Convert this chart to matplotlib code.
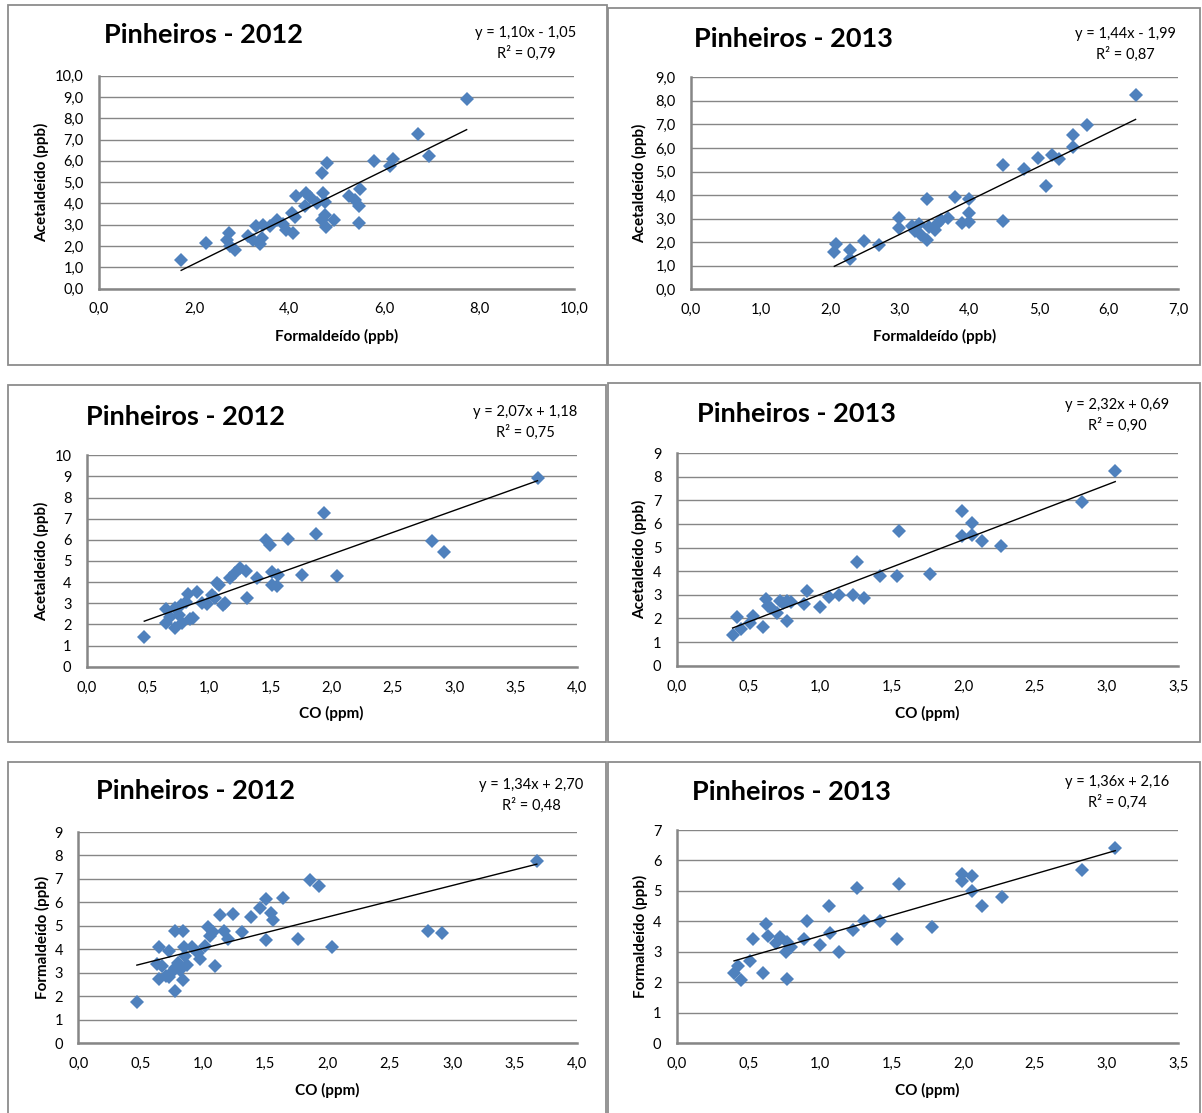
import matplotlib
matplotlib.use("Agg")
import matplotlib.pyplot as plt
import matplotlib.patches as patches
from matplotlib.ticker import MultipleLocator, FuncFormatter

plt.rcParams['font.family'] = ['Lato', 'DejaVu Sans']

W, H = 1202, 1113

# Dados
# Painel 1: Formaldeído x Acetaldeído 2012
form12_a = [1.73, 2.25, 2.74, 2.69, 2.76, 2.87, 3.13, 3.25, 3.30, 3.39, 3.43, 3.46, 3.60,
            3.74, 3.87, 3.94, 4.08, 4.06, 4.12, 4.14, 4.34, 4.36, 4.44, 4.58, 4.72, 4.76,
            4.70, 4.79, 4.76, 4.70, 4.78, 4.95, 5.27, 5.39, 5.48, 5.49, 5.48, 5.78, 6.13,
            6.18, 6.71, 6.94, 7.74]
acet12_a = [1.36, 2.12, 2.63, 2.26, 2.02, 1.79, 2.48, 2.27, 2.93, 2.07, 2.35, 2.99, 2.95,
            3.20, 3.02, 2.74, 2.63, 3.54, 3.34, 4.33, 3.89, 4.50, 4.31, 4.03, 4.51, 4.08,
            5.44, 5.92, 3.45, 3.24, 2.90, 3.21, 4.36, 4.15, 3.89, 4.66, 3.06, 6.00, 5.75,
            6.08, 7.26, 6.22, 8.92]

# Painel 2: Formaldeído x Acetaldeído 2013
form13_a = [2.06, 2.09, 2.29, 2.29, 2.49, 2.70, 2.99, 2.99, 3.18, 3.22, 3.28, 3.30, 3.39,
            3.39, 3.42, 3.50, 3.53, 3.59, 3.70, 3.79, 3.89, 4.00, 4.00, 4.00, 4.49, 4.49,
            4.79, 4.99, 5.10, 5.19, 5.29, 5.49, 5.49, 5.69, 6.39]
acet13_a = [1.60, 1.94, 1.65, 1.29, 2.05, 1.88, 3.04, 2.62, 2.70, 2.49, 2.76, 2.31, 2.09,
            3.82, 2.66, 2.52, 2.77, 2.93, 3.01, 3.92, 2.80, 2.87, 3.22, 3.85, 5.26, 2.91,
            5.12, 5.57, 4.38, 5.71, 5.52, 6.03, 6.56, 6.97, 8.26]

# Painel 3: CO x Acetaldeído 2012
co12_b = [0.47, 0.65, 0.65, 0.68, 0.72, 0.72, 0.75, 0.78, 0.77, 0.81, 0.83, 0.84, 0.87,
          0.90, 0.94, 0.98, 1.02, 1.06, 1.05, 1.08, 1.11, 1.13, 1.17, 1.21, 1.25, 1.30,
          1.31, 1.39, 1.46, 1.50, 1.51, 1.51, 1.55, 1.56, 1.64, 1.76, 1.87, 1.94, 2.04,
          2.82, 2.92, 3.68]
acet12_b = [1.39, 2.71, 2.08, 2.37, 1.81, 2.76, 2.44, 2.08, 2.92, 3.08, 3.42, 2.24, 2.29,
            3.55, 3.03, 2.97, 3.39, 3.97, 3.23, 3.86, 2.92, 3.03, 4.18, 4.42, 4.68, 4.54,
            3.26, 4.21, 5.99, 5.76, 4.50, 3.86, 3.83, 4.34, 6.06, 4.35, 6.26, 7.27, 4.31,
            5.95, 5.44, 8.93]

# Painel 4: CO x Acetaldeído 2013
co13_b = [0.39, 0.42, 0.45, 0.51, 0.53, 0.60, 0.62, 0.64, 0.66, 0.70, 0.72, 0.74, 0.77,
          0.77, 0.80, 0.89, 0.91, 1.00, 1.06, 1.13, 1.23, 1.26, 1.31, 1.42, 1.54, 1.55,
          1.77, 1.99, 1.99, 2.06, 2.06, 2.13, 2.26, 2.83, 3.06]
acet13_b = [1.30, 2.05, 1.57, 1.82, 2.12, 1.62, 2.81, 2.52, 2.43, 2.24, 2.72, 2.64, 1.89,
            2.75, 2.68, 2.60, 3.17, 2.50, 2.92, 2.99, 2.99, 4.37, 2.88, 3.81, 3.81, 5.70,
            3.89, 5.49, 6.56, 6.02, 5.53, 5.27, 5.06, 6.94, 8.25]

# Painel 5: CO x Formaldeído 2012
co12_c = [0.47, 0.65, 0.65, 0.63, 0.67, 0.70, 0.73, 0.73, 0.75, 0.78, 0.78, 0.78, 0.80,
          0.82, 0.84, 0.84, 0.85, 0.86, 0.87, 0.91, 0.96, 0.98, 1.02, 1.04, 1.06, 1.08,
          1.10, 1.14, 1.17, 1.20, 1.24, 1.31, 1.39, 1.46, 1.51, 1.51, 1.55, 1.56, 1.64,
          1.76, 1.86, 1.93, 2.04, 2.81, 2.92, 3.68]
form12_c = [1.75, 4.09, 2.74, 3.38, 3.31, 2.87, 3.93, 2.81, 3.05, 4.80, 2.24, 3.20, 3.41,
            3.13, 4.79, 2.70, 4.12, 3.72, 3.32, 4.12, 3.84, 3.58, 4.15, 4.97, 4.57, 4.76,
            3.31, 5.47, 4.79, 4.43, 5.50, 4.72, 5.38, 5.78, 6.16, 4.38, 5.54, 5.26, 6.21,
            4.46, 6.96, 6.70, 4.12, 4.80, 4.69, 7.76]

# Painel 6: CO x Formaldeído 2013
co13_c = [0.40, 0.43, 0.45, 0.51, 0.53, 0.60, 0.62, 0.64, 0.69, 0.72, 0.76, 0.77, 0.77,
          0.80, 0.89, 0.91, 1.00, 1.06, 1.07, 1.13, 1.23, 1.26, 1.31, 1.42, 1.54, 1.55,
          1.78, 1.99, 1.99, 2.06, 2.06, 2.13, 2.27, 2.83, 3.06]
form13_c = [2.30, 2.54, 2.08, 2.70, 3.42, 2.31, 3.92, 3.51, 3.30, 3.50, 3.01, 3.34, 2.11,
            3.17, 3.41, 4.02, 3.21, 4.51, 3.61, 3.01, 3.72, 5.09, 4.03, 4.03, 3.42, 5.22,
            3.81, 5.31, 5.54, 5.50, 5.00, 4.51, 4.81, 5.69, 6.42]

# Equações das linhas de tendência
slopes = [1.10, 1.44, 2.07, 2.32, 1.34, 1.36]
intercepts = [-1.05, -1.99, 1.18, 0.69, 2.70, 2.16]
r2_values = [0.79, 0.87, 0.75, 0.90, 0.48, 0.74]
titles = ["Pinheiros - 2012", "Pinheiros - 2013"] * 3
xlabels = ["Formaldeído (ppb)", "Formaldeído (ppb)", "CO (ppm)", "CO (ppm)", "CO (ppm)", "CO (ppm)"]
ylabels = ["Acetaldeído (ppb)", "Acetaldeído (ppb)", "Acetaldeído (ppb)", "Acetaldeído (ppb)",
           "Formaldeído (ppb)", "Formaldeído (ppb)"]

xs = [form12_a, form13_a, co12_b, co13_b, co12_c, co13_c]
ys = [acet12_a, acet13_a, acet12_b, acet13_b, form12_c, form13_c]

# Layout em pixels: caixa do painel, área do gráfico, limites, passos
boxes = [(8, 5, 607, 365), (608, 8, 1200, 365),
         (8, 385, 606, 742), (608, 383, 1200, 742),
         (8, 762, 606, 1118), (608, 762, 1200, 1118)]
plot_areas = [(99, 75.7, 574, 288.5), (691, 77.3, 1178, 289.3),
              (86.7, 455.3, 576.7, 666.7), (676.7, 453, 1178.3, 665.7),
              (78.3, 832, 576.7, 1043.3), (676.7, 830, 1178.3, 1043.3)]
limits = [(10, 10), (7, 9), (4, 10), (3.5, 9), (4, 9), (3.5, 7)]
xsteps = [2, 1, 0.5, 0.5, 0.5, 0.5]
ydec = [True, True, False, False, False, False]
title_pos = [(203, 35), (793, 39), (186, 417), (796, 414), (195, 791), (791, 792)]
eq_pos = [(526, 33), (1125, 34), (525, 412), (1117, 405), (531, 785), (1117, 782)]
ylabel_x = [42, 640, 42, 640, 42, 640]
xlabel_y = [336, 336, 713, 713, 1090, 1090]

fig = plt.figure(figsize=(W / 100, H / 100), dpi=100)

grid_color = '#868686'
blue = '#4F81BD'


def comma(dec):
    if dec:
        return FuncFormatter(lambda v, p: f"{v:.1f}".replace('.', ','))
    return FuncFormatter(lambda v, p: f"{v:.0f}")


for i in range(6):
    bx0, by0, bx1, by1 = boxes[i]
    fig.patches.append(patches.Rectangle((bx0 / W, 1 - by1 / H), (bx1 - bx0) / W, (by1 - by0) / H,
                                         transform=fig.transFigure, fill=False,
                                         edgecolor='#8c8c8c', linewidth=1.3))

    l, t, r, b = plot_areas[i]
    ax = fig.add_axes([l / W, 1 - b / H, (r - l) / W, (b - t) / H])
    xmax, ymax = limits[i]
    ax.set_xlim(0, xmax)
    ax.set_ylim(0, ymax)
    ax.xaxis.set_major_locator(MultipleLocator(xsteps[i]))
    ax.yaxis.set_major_locator(MultipleLocator(1))
    ax.xaxis.set_major_formatter(comma(True))
    ax.yaxis.set_major_formatter(comma(ydec[i]))
    ax.grid(axis='y', color=grid_color, linewidth=1.0)
    ax.set_axisbelow(True)
    for s in ['top', 'right']:
        ax.spines[s].set_visible(False)
    for s in ['left', 'bottom']:
        ax.spines[s].set_color(grid_color)
        ax.spines[s].set_linewidth(1.8)
    ax.tick_params(length=0, labelsize=10.5, colors='black')
    ax.tick_params(axis='x', pad=10)
    ax.tick_params(axis='y', pad=11)

    ax.plot(xs[i], ys[i], linestyle='none', marker='D', markersize=7.5,
            markerfacecolor=blue, markeredgewidth=0, clip_on=False, zorder=3)
    x0, x1 = min(xs[i]), max(xs[i])
    ax.plot([x0, x1], [slopes[i] * x0 + intercepts[i], slopes[i] * x1 + intercepts[i]],
            color='black', linewidth=1.0, zorder=4)

    # títulos e textos
    tx, ty = title_pos[i]
    fig.text(tx / W, 1 - ty / H, titles[i], ha='center', va='center',
             fontsize=19.5, fontweight='bold')
    ex, ey = eq_pos[i]
    sign = '-' if intercepts[i] < 0 else '+'
    eq = f"y = {slopes[i]:.2f}x {sign} {abs(intercepts[i]):.2f}".replace('.', ',')
    fig.text(ex / W, 1 - ey / H, eq, ha='center', va='center', fontsize=10.5)
    fig.text(ex / W, 1 - (ey + 20) / H, f"R² = {r2_values[i]:.2f}".replace('.', ','),
             ha='center', va='center', fontsize=10.5)
    fig.text(ylabel_x[i] / W, 1 - (t + b) / 2 / H, ylabels[i], rotation=90,
             ha='center', va='center', fontsize=11, fontweight='bold')
    fig.text((l + r) / 2 / W, 1 - xlabel_y[i] / H, xlabels[i], ha='center', va='center',
             fontsize=11, fontweight='bold')

fig.savefig('out.png', dpi=100, facecolor='white')
